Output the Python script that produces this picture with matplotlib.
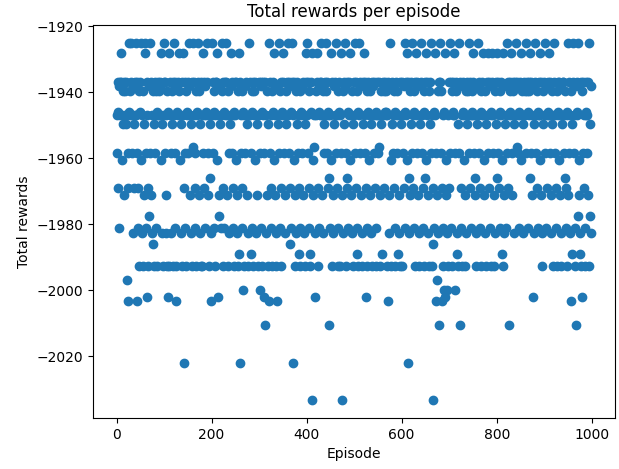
import matplotlib
matplotlib.use("Agg")
import matplotlib.pyplot as plt

# reward level for each code letter
reward_levels = {
    "A": -1925.0, "B": -1928.0,
    "C": -1937.0, "c": -1938.0, "D": -1939.5,
    "e": -1946.0, "E": -1947.0, "F": -1949.5,
    "H": -1956.5, "G": -1958.5, "g": -1960.5,
    "K": -1966.0, "I": -1969.0, "J": -1971.0,
    "N": -1977.5, "L": -1981.0, "M": -1982.5,
    "Q": -1986.0, "P": -1989.0, "O": -1992.5,
    "T": -1997.0, "S": -2000.0, "s": -2002.0, "R": -2003.3,
    "U": -2010.5, "V": -2022.0, "W": -2033.3,
}

# one code per episode, 100 episodes per row
episode_codes = [
    "EGCIecLECB" "CEgDFCJEDF" "CETIRGeADE" "ACEGcMFIEC" "EAGCRLIDOe"
    "CgAEMDOJFB" "ALGCsEOINc" "GACJEMQDOF" "CGEDLeOCED" "EcCBgFMOEC",
    "ACGJEMDOes" "OBECGMDFOC" "EAGCLROceE" "CDBgEMFOCB" "EVIGCLDOeE"
    "CGcAJEMFOC" "HAECGILDOe" "ECAJDMFOCE" "OGBECILceE" "CAGJEOFKRM",
    "EACGDLeOEC" "CBgEsNJFcL" "EDAOCILeEC" "CAEJDOMGFE" "cBGCIELOeC"
    "EgCJMDOPBV" "CEGDILeSOE" "cGCEJFMOEA" "CEPGDLeOCE" "DgCEMFJOEC",
    "EGSCLcOeEC" "sGUCMEJDOF" "RAGCILEODe" "CBgJEMOcRF" "EAGDLCIOeE"
    "CBGEJMDFCE" "EAGCIcQLeC" "AEVgCJOMDF" "CGEPIDLOeE" "cGCJEMOFBC",
    "EAGCILDOPe" "CBWgJEHMsD" "EBCOIcLeCE" "CAEJDMFGEC" "DAGCIEeKUL"
    "EBgCOJMcFE" "CAGEIDLOeC" "EOGBJWMDFC" "cAOGCKILeE" "CBgEJDMOFC",
    "EAGCILPDeO" "AEGCJcMOFC" "BEGCsILDOe" "CEgDJMFOCE" "cGCEILeOEC"
    "EGHCJODFEP" "CEDIeCEDeO" "ERCMJcAgOF" "CGEDILeOCE" "DGPEJMCOFE",
    "OCGEIcLeAC" "EBgVCKMDJF" "CAGEILDeCO" "EBGCJcMOFE" "CAGEILDOeC"
    "KBgCEJMDOF" "CAGEOIQWLe" "EBGRJTMDUC" "CAGDIRLEOe" "SBsgJSMOEC",
    "IAGCLDOeEC" "EBGSCDPMOF" "AGCUILEOce" "CEgOJMDFCE" "DAGCIELeDE"
    "CBGEJKOMcF" "EAGCILDOeE" "CEBgJDMOFC" "EBGCILcOeE" "CBGEJOMDFC",
    "KBGCIELDeE" "CPgBOJMcFE" "LAGCIEUDeC" "EBGJCDMFEC" "cAHCGELecE"
    "CBgEDMFCED" "EAGCDLeECD" "KBGCJEcsMF" "CAGEIDLeCE" "EBgCJOMDFE",
    "CAGELIceCE" "EBGCJMDFEO" "CAGEILODeC" "EgCcJMOFEC" "CGEDKILOeE"
    "JAGCMERDPF" "CAGEOLcUeC" "EANgJPMOCs" "DGCEILOeEC" "EGCJOAFNMc",
]

codes = "".join(episode_codes)
total_rewards = [reward_levels[c] for c in codes]
episodes = list(range(len(total_rewards)))

fig = plt.figure(figsize=(6.19, 4.69), dpi=100)
ax = fig.add_axes([0.150, 0.1087, 0.8435, 0.838])
ax.scatter(episodes, total_rewards, color="#1f77b4")
ax.set_title("Total rewards per episode")
ax.set_xlabel("Episode")
ax.set_ylabel("Total rewards")
fig.savefig("out.png", dpi=100)
